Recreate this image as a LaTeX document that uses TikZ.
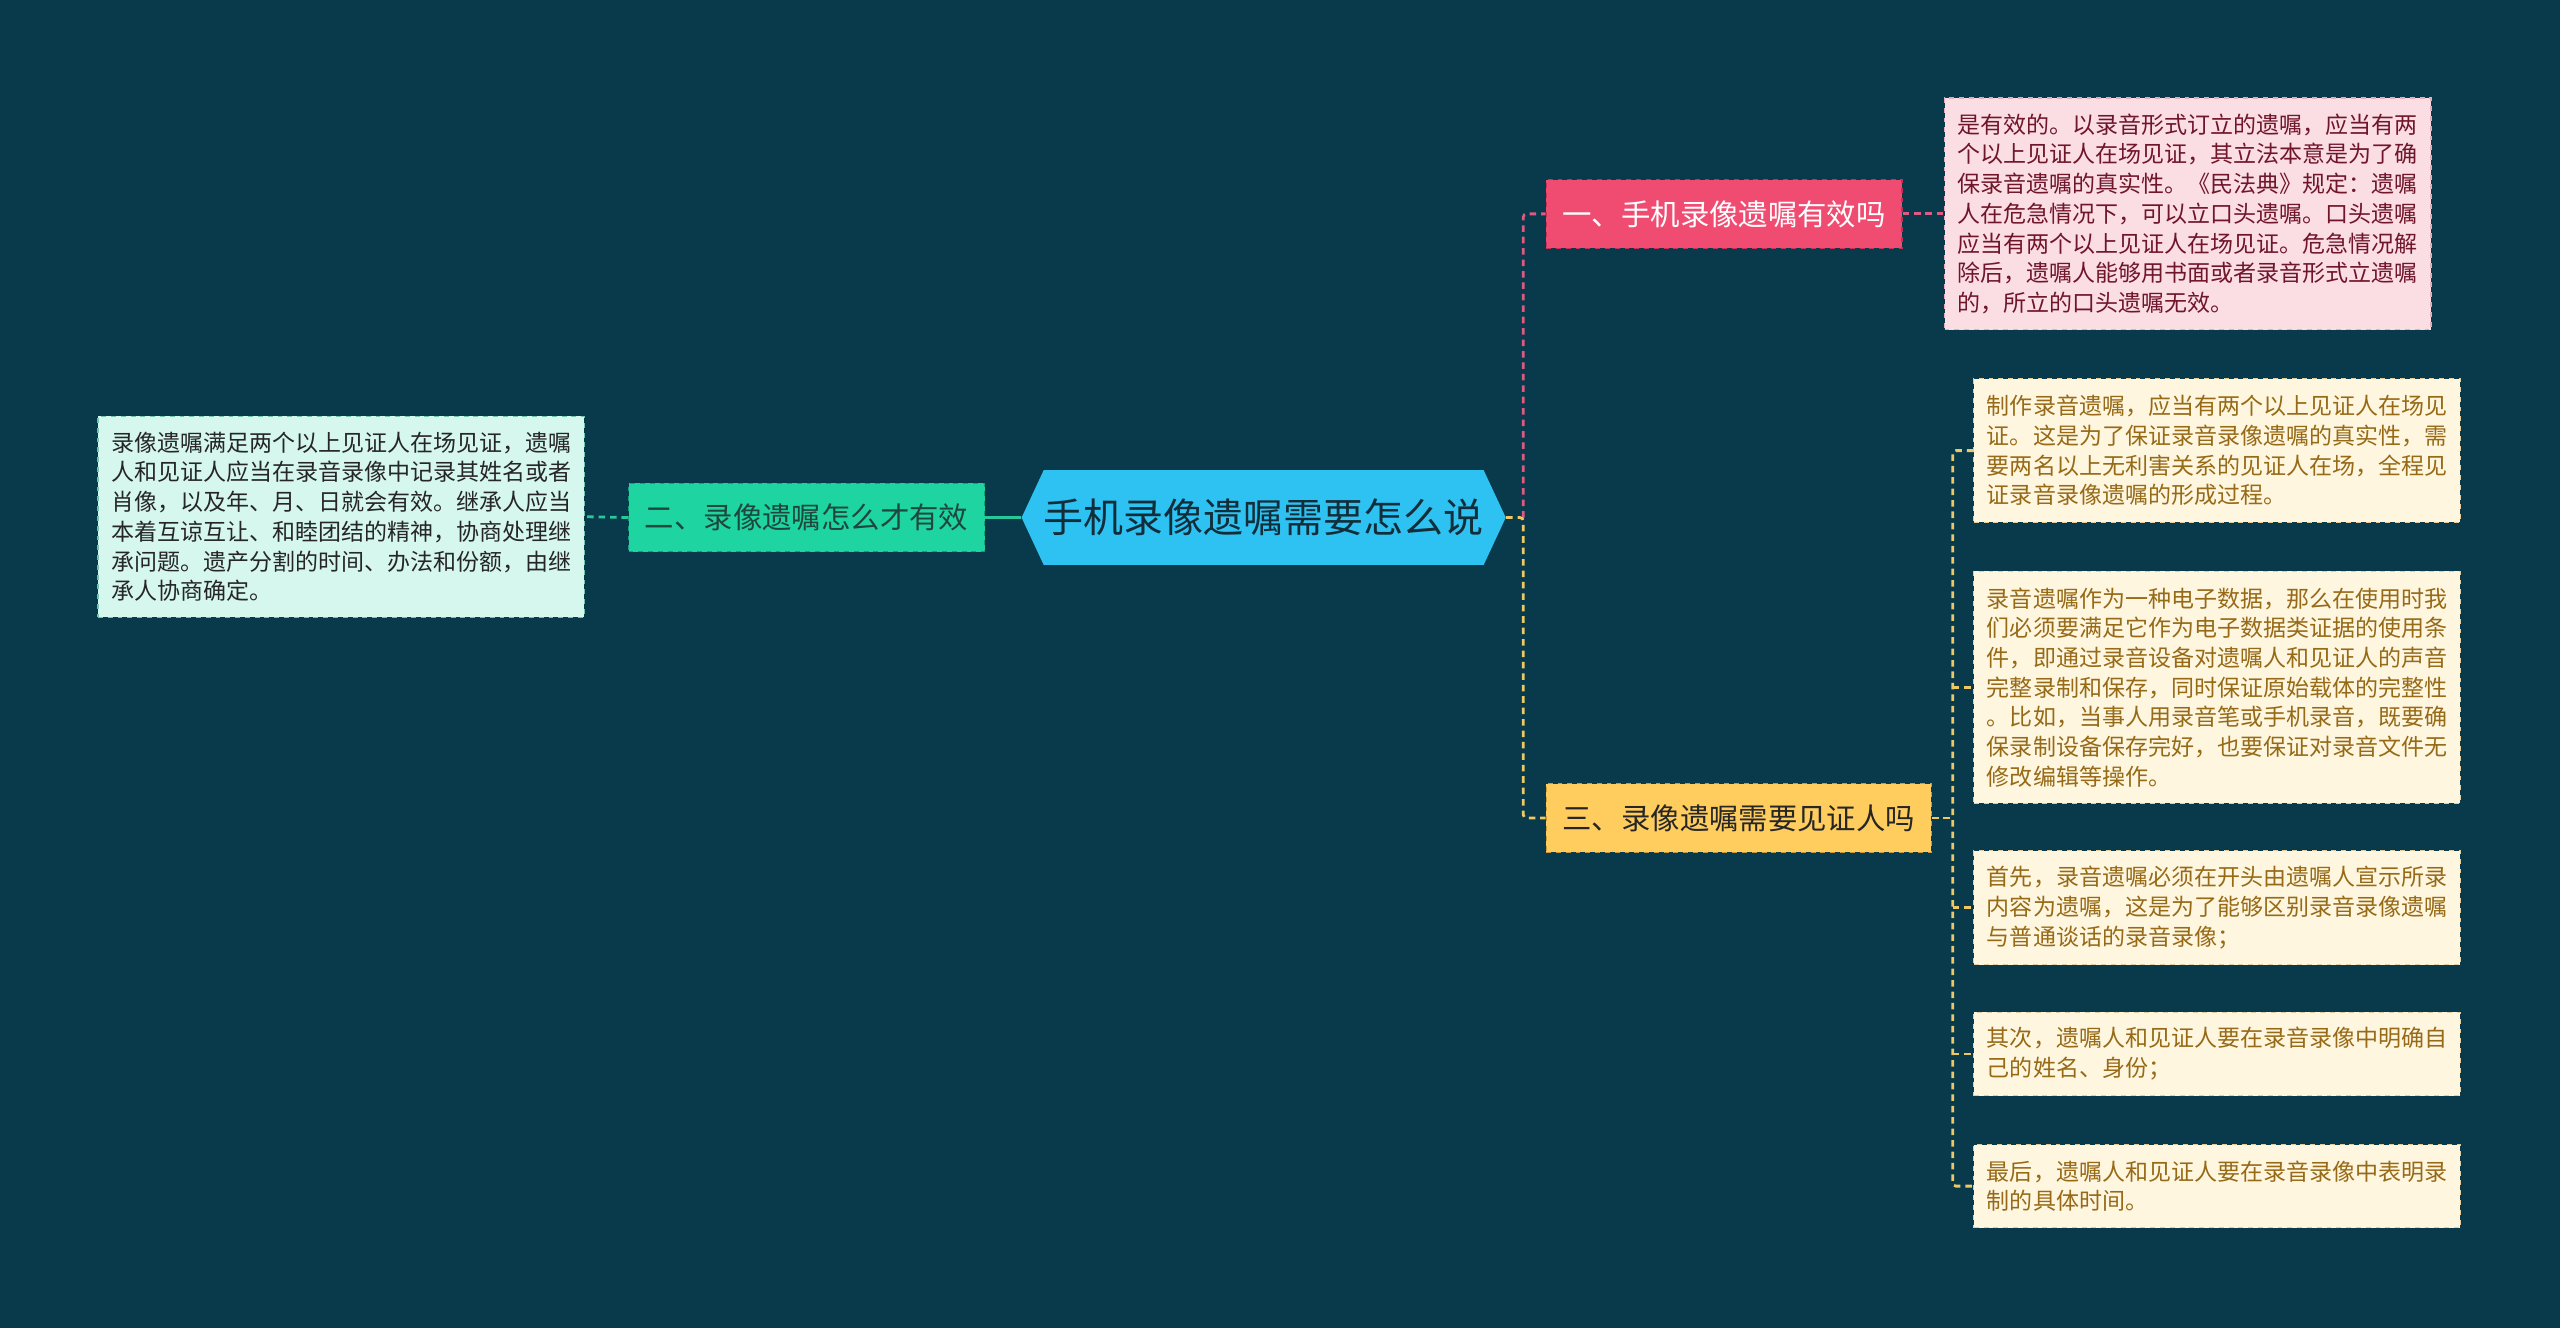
\documentclass[tikz,border=0pt]{standalone}
\usepackage{fontspec}
\setmainfont{Noto Sans CJK SC}
\usepackage{xcolor}
\usepackage{tikz}
\usetikzlibrary{shapes.symbols}

\definecolor{bgteal}{RGB}{8,58,75}
\definecolor{rootblue}{RGB}{46,194,242}
\definecolor{roottext}{RGB}{18,46,58}
\definecolor{mint}{RGB}{30,212,160}
\definecolor{mintdark}{RGB}{20,160,120}
\definecolor{minttext}{RGB}{30,72,62}
\definecolor{mintleaf}{RGB}{214,247,238}
\definecolor{mintline}{RGB}{40,200,155}
\definecolor{rose}{RGB}{240,76,114}
\definecolor{rosedark}{RGB}{196,48,86}
\definecolor{roseleaf}{RGB}{251,221,228}
\definecolor{rosetext}{RGB}{112,22,42}
\definecolor{roseline}{RGB}{222,90,130}
\definecolor{gold}{RGB}{255,205,94}
\definecolor{golddark}{RGB}{200,156,60}
\definecolor{goldleaf}{RGB}{255,246,224}
\definecolor{goldtext}{RGB}{150,106,22}
\definecolor{goldline}{RGB}{238,200,100}

\begin{document}
\begin{tikzpicture}[x=1pt,y=-1pt,
    root/.style={signal,signal to=west and east,signal pointer angle=130,fill=rootblue,text=roottext,
      font=\fontsize{24.5}{28}\selectfont,minimum width=292pt,minimum height=58pt,inner sep=0pt},
    branch/.style={draw,dashed,line width=0.7pt,minimum height=42pt,inner xsep=9pt,
      font=\fontsize{18}{22}\selectfont},
    leaf/.style={draw,dashed,line width=0.7pt,align=left,minimum width=298pt,inner xsep=7pt,
      font=\fontsize{14.1}{18.2}\selectfont},
    link/.style={line width=1.7pt,dash pattern=on 4pt off 3pt,rounded corners=2pt}]
    \useasboundingbox (0,0) rectangle (1568,813.4);
    \fill[bgteal] (0,0) rectangle (1568,813.4);

    \node[root] (root) at (774,317) {手机录像遗嘱需要怎么说};
    \coordinate (rfork) at (933,317);
    \coordinate (wfork) at (1196,501);

    \node[branch,fill=mint,draw=mintdark,text=minttext,minimum width=218pt] (valid) at (494,317) {二、录像遗嘱怎么才有效};
    \node[leaf,fill=mintleaf,draw=mintdark!60,text=black!85,minimum height=123pt] (validtxt) at (209,316.5)
      {录像遗嘱满足两个以上见证人在场见证，遗嘱\\
       人和见证人应当在录音录像中记录其姓名或者\\
       肖像，以及年、月、日就会有效。继承人应当\\
       本着互谅互让、和睦团结的精神，协商处理继\\
       承问题。遗产分割的时间、办法和份额，由继\\
       承人协商确定。};

    \node[branch,fill=rose,draw=rosedark,text=white,minimum width=218pt] (effect) at (1056,131) {一、手机录像遗嘱有效吗};
    \node[leaf,fill=roseleaf,draw=rosedark!40,text=rosetext,minimum height=142pt] (effecttxt) at (1340,131)
      {是有效的。以录音形式订立的遗嘱，应当有两\\
       个以上见证人在场见证，其立法本意是为了确\\
       保录音遗嘱的真实性。《民法典》规定：遗嘱\\
       人在危急情况下，可以立口头遗嘱。口头遗嘱\\
       应当有两个以上见证人在场见证。危急情况解\\
       除后，遗嘱人能够用书面或者录音形式立遗嘱\\
       的，所立的口头遗嘱无效。};

    \node[branch,fill=gold,draw=golddark,text=black!85,minimum width=236pt] (witness) at (1065,501) {三、录像遗嘱需要见证人吗};
    \node[leaf,fill=goldleaf,draw=golddark!50,text=goldtext,minimum height=88pt] (w1) at (1358,276)
      {制作录音遗嘱，应当有两个以上见证人在场见\\
       证。这是为了保证录音录像遗嘱的真实性，需\\
       要两名以上无利害关系的见证人在场，全程见\\
       证录音录像遗嘱的形成过程。};
    \node[leaf,fill=goldleaf,draw=golddark!50,text=goldtext,minimum height=142pt] (w2) at (1358,421)
      {录音遗嘱作为一种电子数据，那么在使用时我\\
       们必须要满足它作为电子数据类证据的使用条\\
       件，即通过录音设备对遗嘱人和见证人的声音\\
       完整录制和保存，同时保证原始载体的完整性\\
       。比如，当事人用录音笔或手机录音，既要确\\
       保录制设备保存完好，也要保证对录音文件无\\
       修改编辑等操作。};
    \node[leaf,fill=goldleaf,draw=golddark!50,text=goldtext,minimum height=70pt] (w3) at (1358,556)
      {首先，录音遗嘱必须在开头由遗嘱人宣示所录\\
       内容为遗嘱，这是为了能够区别录音录像遗嘱\\
       与普通谈话的录音录像；};
    \node[leaf,fill=goldleaf,draw=golddark!50,text=goldtext,minimum height=51pt] (w4) at (1358,645.5)
      {其次，遗嘱人和见证人要在录音录像中明确自\\
       己的姓名、身份；};
    \node[leaf,fill=goldleaf,draw=golddark!50,text=goldtext,minimum height=51pt] (w5) at (1358,726.5)
      {最后，遗嘱人和见证人要在录音录像中表明录\\
       制的具体时间。};

    \draw[link,solid,draw=mintline] (root.west) -- (valid.east);
    \draw[link,draw=mintline] (valid.west) -- (validtxt.east);
    \draw[link,draw=roseline] (rfork) |- (effect.west);
    \draw[link,draw=roseline] (effect.east) -- (effecttxt.west);
    \draw[link,draw=goldline] (root.east) -- (rfork) |- (witness.west);
    \draw[link,draw=goldline] (witness.east) -- (wfork);
    \draw[link,draw=goldline] (w1.west) -| (wfork) |- (w5.west);
    \foreach \n in {w2,w3,w4}
        \draw[link,draw=goldline] (\n.west -| wfork) -- (\n.west);
\end{tikzpicture}
\end{document}
